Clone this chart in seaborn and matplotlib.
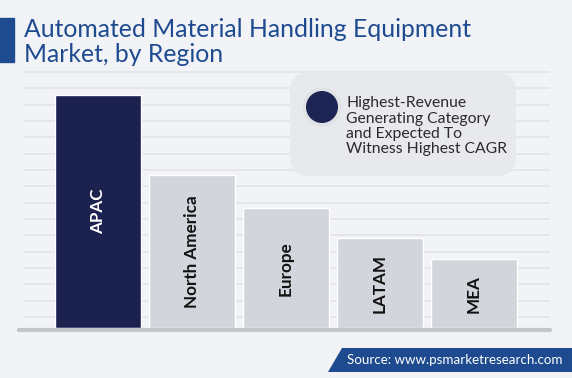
import numpy as np
import seaborn as sns
import matplotlib.pyplot as plt
from matplotlib.patches import FancyBboxPatch, Polygon, Circle, Rectangle

sns.set_style("white")
plt.rcParams['font.family'] = ['Lato', 'DejaVu Sans']

regions = ["APAC", "North America", "Europe", "LATAM", "MEA"]
values = [100, 65.4, 51.3, 38.5, 29.5]   # relative market size, APAC = 100
bar_colors = ["#1b2250", "#d2d5dc", "#d2d5dc", "#d2d5dc", "#d2d5dc"]
label_colors = ["white", "#111111", "#111111", "#111111", "#111111"]

title_lines = ["Automated Material Handling Equipment", "Market, by Region"]
legend_lines = ["Highest-Revenue", "Generating Category", "and Expected To",
                "Witness Highest CAGR"]
source = "Source: www.psmarketresearch.com"

W, H = 572, 378
bg = "#f2f3f7"
blue = "#1e4b8f"

fig = plt.figure(figsize=(W / 100, H / 100), dpi=100)
fig.patch.set_facecolor(bg)

# main chart axes (pixel box x 24..550, y 71..328)
ax = fig.add_axes([24 / W, (H - 328) / H, 526 / W, 257 / H])
ax.set_facecolor("none")
sns.barplot(x=regions, y=values, hue=regions, palette=bar_colors, width=0.915,
            saturation=1, legend=False, ax=ax, zorder=3)
ax.set_xlim(-0.787, 4.81)
ax.set_ylim(0, 110.2)
ax.set_yticks(np.arange(4.7, 110, 7.0))
ax.grid(axis="y", color="#e3e4e9", lw=1.2)
ax.set_axisbelow(True)
ax.tick_params(left=False, bottom=False, labelleft=False, labelbottom=False)
ax.set_xlabel("")
ax.set_ylabel("")
for s in ax.spines.values():
    s.set_visible(False)
ax.axhline(-0.75, xmin=-0.01, xmax=1, color="#c4c5c9", lw=3, clip_on=False, zorder=4)

for i, (name, v) in enumerate(zip(regions, values)):
    ax.text(i, v / 2, name, rotation=90, ha="center", va="center",
            fontsize=12.3, fontweight="bold", color=label_colors[i], zorder=5)

# overlay in pixel coordinates for decorations
ov = fig.add_axes([0, 0, 1, 1])
ov.set_xlim(0, W)
ov.set_ylim(H, 0)
ov.axis("off")
ov.patch.set_alpha(0)

ov.add_patch(Rectangle((0, 18), 14, 44, color=blue))
for k, line in enumerate(title_lines):
    ov.text(24, 37 + 25 * k, line, fontsize=17.8, color=blue, va="baseline", ha="left")

ov.add_patch(FancyBboxPatch((290 + 20, 72 + 20), 226 - 40, 104 - 40,
                            boxstyle="round,pad=20", fc="#e8e9ed", ec="none"))
ov.add_patch(Circle((322, 107), 19.5, fc="#e1e2e6", ec="none"))
ov.add_patch(Circle((322, 107), 16, fc="#1b2452", ec="none"))
for k, line in enumerate(legend_lines):
    ov.text(346, 107 + 15.5 * k, line, fontsize=11.3, color="#2a2a2a",
            va="baseline", ha="left")

ov.add_patch(Polygon([(328, 372), (342, 348), (W, 348), (W, 372)], closed=True,
                     fc=blue, ec="none"))
ov.text(347, 360, source, fontsize=9.6, color="white", va="center", ha="left")

fig.savefig("out.png", dpi=100, facecolor=bg)
